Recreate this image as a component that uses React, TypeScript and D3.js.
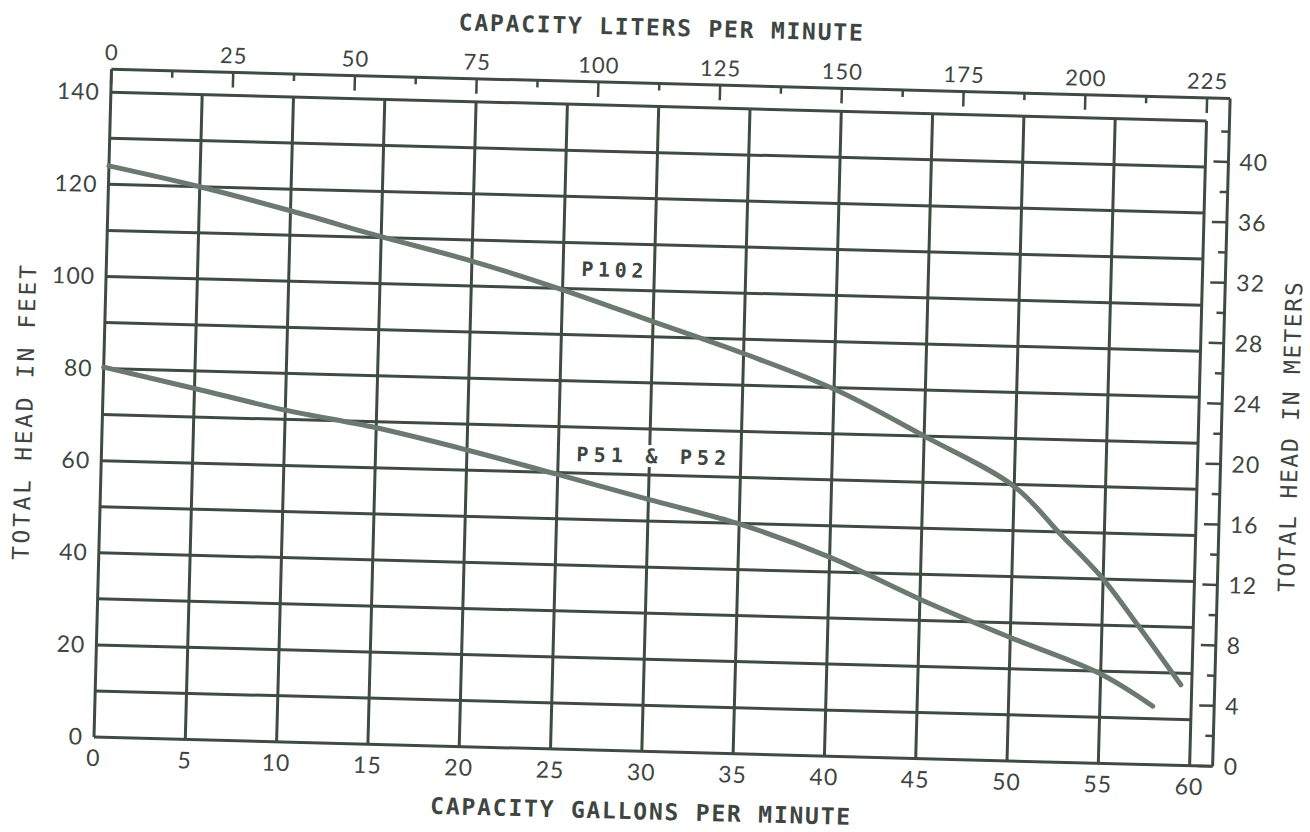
import React from "react";
import * as d3 from "d3";

// ---- data ----
const gpmTicks = [0, 5, 10, 15, 20, 25, 30, 35, 40, 45, 50, 55, 60];
const feetGrid = [0, 10, 20, 30, 40, 50, 60, 70, 80, 90, 100, 110, 120, 130, 140];
const feetTicks = [0, 20, 40, 60, 80, 100, 120, 140];
const lpmTicks = [0, 25, 50, 75, 100, 125, 150, 175, 200, 225];
const lpmMinor = [12.5, 37.5, 62.5, 87.5, 112.5, 137.5, 162.5, 187.5, 212.5];
const meterTicks = [0, 4, 8, 12, 16, 20, 24, 28, 32, 36, 40];
const meterMinor = [2, 6, 10, 14, 18, 22, 26, 30, 34, 38, 42];

const p102Gpm = [0, 5, 10, 15, 20, 25, 30, 35, 40, 45, 50, 52.6, 55, 57, 59.4];
const p102Head = [124, 120, 115.3, 110.2, 105.4, 99.7, 93.3, 86.9, 79.7, 70, 59.6, 49.5, 40, 30, 17.5];
const p5xGpm = [0, 5, 10, 15, 20, 25, 30, 35, 40, 45, 50, 55, 57.9];
const p5xHead = [80.3, 76.2, 72, 68.7, 64.4, 59.6, 54.7, 49.9, 43.2, 34.6, 26.8, 19.4, 12.7];

const labels = [
  { text: "P102", gpm: 27.7, ft: 104.3, len: 62 },
  { text: "P51 & P52", gpm: 30.1, ft: 64.1, len: 150 },
];

const W = 1096;
const H = 645;
const GAP = 23;
const FT_PER_M = 3.2808;

const gridColor = "#3e4b43";
const curveColor = "#6b7a70";
const textColor = "#3d4640";
const thinFont = "Lato, 'DejaVu Sans', sans-serif";
const monoFont = "'DejaVu Sans Mono', monospace";

export default function App() {
  const x = d3.scaleLinear().domain([0, 60]).range([0, W]);
  const y = d3.scaleLinear().domain([0, 140]).range([0, -H]);
  const xL = d3.scaleLinear().domain([0, 225]).range([0, W]);
  const yM = d3.scaleLinear().domain([0, 140 / FT_PER_M]).range([0, -H]);

  const line = d3
    .line<[number, number]>()
    .x((d) => x(d[0]))
    .y((d) => y(d[1]))
    .curve(d3.curveCatmullRom.alpha(0.5));

  const p102 = line(p102Gpm.map((g, i) => [g, p102Head[i]]) as [number, number][]) || "";
  const p5x = line(p5xGpm.map((g, i) => [g, p5xHead[i]]) as [number, number][]) || "";

  const top = -H - GAP;
  const right = W + GAP;

  const tickText = {
    fontFamily: thinFont,
    fontWeight: 400,
    fontSize: 23,
    letterSpacing: 1,
    fill: textColor,
  } as const;

  return (
    <svg
      width={1310}
      height={832}
      style={{ position: "absolute", left: 0, top: 0, background: "#fff" }}
    >
      <g transform="translate(94,737) rotate(1.5)">
        {/* horizontal grid */}
        {feetGrid.map((f) => (
          <line key={"h" + f} x1={0} x2={f === 0 ? right : W} y1={y(f)} y2={y(f)} stroke={gridColor} strokeWidth={3} />
        ))}
        {/* vertical grid */}
        {gpmTicks.map((g) => (
          <line key={"v" + g} x1={x(g)} x2={x(g)} y1={0} y2={g === 0 ? top : y(140)} stroke={gridColor} strokeWidth={3} />
        ))}
        {/* outer frame */}
        <line x1={0} x2={right} y1={top} y2={top} stroke={gridColor} strokeWidth={3} />
        <line x1={right} x2={right} y1={top} y2={0} stroke={gridColor} strokeWidth={3} />

        {/* top liters axis ticks */}
        {lpmTicks.map((l) => (
          <line key={"lt" + l} x1={xL(l)} x2={xL(l)} y1={top} y2={top + 15} stroke={gridColor} strokeWidth={2.5} />
        ))}
        {lpmMinor.map((l) => (
          <line key={"lm" + l} x1={xL(l)} x2={xL(l)} y1={top} y2={top + 7} stroke={gridColor} strokeWidth={2.5} />
        ))}
        {lpmTicks.map((l) => (
          <text key={"ll" + l} x={xL(l)} y={top - 9} textAnchor="middle" {...tickText} fontSize={22}>
            {l}
          </text>
        ))}

        {/* right meters axis */}
        {meterTicks.map((m) => (
          <line key={"mt" + m} x1={right - 15} x2={right} y1={yM(m)} y2={yM(m)} stroke={gridColor} strokeWidth={2.5} />
        ))}
        {meterMinor.map((m) => (
          <line key={"mm" + m} x1={right - 8} x2={right} y1={yM(m)} y2={yM(m)} stroke={gridColor} strokeWidth={2.5} />
        ))}
        {meterTicks.map((m) => (
          <text key={"ml" + m} x={right + 11} y={yM(m) + 8} textAnchor="start" {...tickText}>
            {m}
          </text>
        ))}

        {/* left feet labels */}
        {feetTicks.map((f) => (
          <text key={"fl" + f} x={-11} y={y(f) + 8} textAnchor="end" {...tickText}>
            {f}
          </text>
        ))}
        {/* bottom gpm labels */}
        {gpmTicks.map((g) => (
          <text key={"gl" + g} x={x(g)} y={29} textAnchor="middle" {...tickText}>
            {g}
          </text>
        ))}

        {/* curves */}
        <path d={p102} fill="none" stroke={curveColor} strokeWidth={5} strokeLinecap="round" strokeLinejoin="round" />
        <path d={p5x} fill="none" stroke={curveColor} strokeWidth={5} strokeLinecap="round" strokeLinejoin="round" />

        {/* curve labels */}
        {labels.map((lb) => (
          <g key={lb.text}>
            <rect x={x(lb.gpm) - lb.len / 2 - 4} y={y(lb.ft) - 11} width={lb.len + 8} height={22} fill="#fff" />
            <text x={x(lb.gpm)} y={y(lb.ft) + 7} textAnchor="middle" fontFamily={monoFont} fontWeight="bold" fontSize={20} textLength={lb.len} lengthAdjust="spacing" fill={textColor}>
              {lb.text}
            </text>
          </g>
        ))}

        {/* axis titles */}
        <text x={W / 2} y={-716} textAnchor="middle" fontFamily={monoFont} fontWeight="bold" fontSize={23} textLength={404} lengthAdjust="spacing" fill={textColor}>
          CAPACITY LITERS PER MINUTE
        </text>
        <text x={W / 2} y={68} textAnchor="middle" fontFamily={monoFont} fontWeight="bold" fontSize={23} textLength={420} lengthAdjust="spacing" fill={textColor}>
          CAPACITY GALLONS PER MINUTE
        </text>
        <text transform={`translate(-70,${y(70)}) rotate(-90)`} textAnchor="middle" fontFamily={monoFont} fontSize={23} textLength={295} lengthAdjust="spacing" fill={textColor}>
          TOTAL HEAD IN FEET
        </text>
        <text transform={`translate(1196,${-331}) rotate(-90)`} textAnchor="middle" fontFamily={monoFont} fontSize={23} textLength={310} lengthAdjust="spacing" fill={textColor}>
          TOTAL HEAD IN METERS
        </text>
      </g>
    </svg>
  );
}
